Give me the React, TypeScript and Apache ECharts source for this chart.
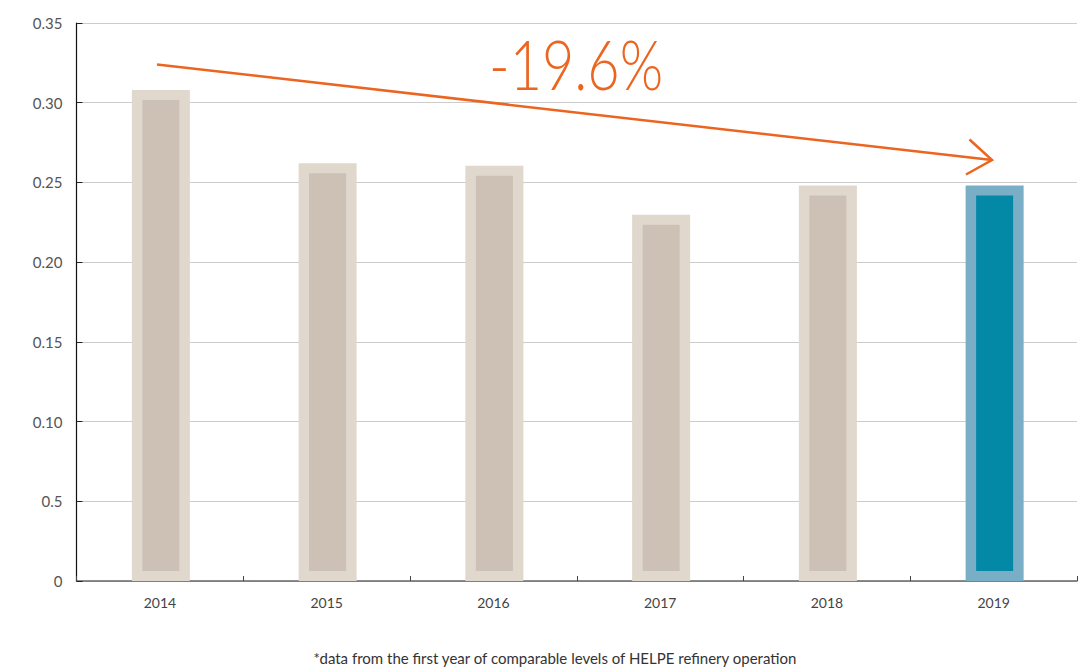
import React, { useEffect, useRef } from "react";
import * as echarts from "echarts";

const years = ["2014", "2015", "2016", "2017", "2018", "2019"];
const values = [0.308, 0.262, 0.2605, 0.2298, 0.248, 0.248];
const highlightYear = "2019";
const yTickLabels = ["0", "0.5", "0.10", "0.15", "0.20", "0.25", "0.30", "0.35"];
const changeLabel = "-19.6%";
const footnote = "*data from the first year of comparable levels of HELPE refinery operation";

const FONT = "Lato, 'Noto Sans', sans-serif";

export default function App() {
  const ref = useRef<HTMLDivElement>(null);
  useEffect(() => {
    document.body.style.margin = "0";
    const chart = echarts.init(ref.current!, null, { renderer: "svg" });
    const data = years.map((y, i) => [i, values[i]]);
    chart.setOption({
      animation: false,
      backgroundColor: "#ffffff",
      textStyle: { fontFamily: FONT },
      grid: { left: 76.5, right: 2, top: 23, bottom: 88, containLabel: false },
      xAxis: {
        type: "category",
        data: years,
        axisLine: { lineStyle: { color: "#666", width: 1.5 } },
        axisTick: { show: true, inside: true, length: 5, lineStyle: { color: "#444" } },
        axisLabel: { color: "#444", fontSize: 14, margin: 14, fontFamily: FONT },
        splitLine: { show: false },
      },
      yAxis: {
        type: "value",
        min: 0,
        max: 0.35,
        interval: 0.05,
        axisLine: { show: true, lineStyle: { color: "#111", width: 1.2 } },
        axisTick: { show: true, inside: true, length: 6, lineStyle: { color: "#222" } },
        axisLabel: {
          color: "#555",
          fontSize: 15,
          margin: 14,
          fontFamily: FONT,
          formatter: (v: number) => yTickLabels[Math.round(v / 0.05)] ?? "",
        },
        splitLine: { lineStyle: { color: "#cccccc", width: 1 } },
      },
      series: [
        {
          type: "custom",
          data,
          encode: { x: 0, y: 1 },
          renderItem: (params: any, api: any) => {
            const idx = api.value(0);
            const top = api.coord([idx, api.value(1)]);
            const base = api.coord([idx, 0]);
            const w = 58;
            const inset = 10.5;
            const hi = years[idx] === highlightYear;
            const h = base[1] - top[1];
            const cx = top[0] + 1;
            return {
              type: "group",
              children: [
                {
                  type: "rect",
                  shape: { x: cx - w / 2, y: top[1], width: w, height: h },
                  style: { fill: hi ? "#7aaec6" : "#e0d7cd" },
                },
                {
                  type: "rect",
                  shape: {
                    x: cx - w / 2 + inset,
                    y: top[1] + 10,
                    width: w - 2 * inset,
                    height: h - 20,
                  },
                  style: { fill: hi ? "#0388a5" : "#cdc1b5" },
                },
              ],
            };
          },
        },
      ],
      graphic: [
        {
          type: "line",
          shape: { x1: 157, y1: 64.5, x2: 992, y2: 160 },
          style: { stroke: "#ec6520", lineWidth: 2.5 },
          z: 10,
        },
        {
          type: "polyline",
          shape: { points: [[969.5, 139.5], [992, 160], [966, 174.5]] },
          style: { stroke: "#ec6520", lineWidth: 2.5, fill: null },
          z: 10,
        },
        {
          type: "text",
          x: 489,
          y: 30,
          scaleX: 0.82,
          style: {
            text: changeLabel,
            fill: "#ec6520",
            fontSize: 68,
            fontWeight: 300,
            fontFamily: FONT,
          },
          z: 10,
        },
        {
          type: "text",
          x: 555,
          y: 658,
          style: {
            text: footnote,
            fill: "#333",
            fontSize: 15,
            fontFamily: FONT,
            textAlign: "center",
            textVerticalAlign: "middle",
          },
        },
      ],
    });
    return () => chart.dispose();
  }, []);
  return <div ref={ref} style={{ width: 1079, height: 669 }} />;
}
